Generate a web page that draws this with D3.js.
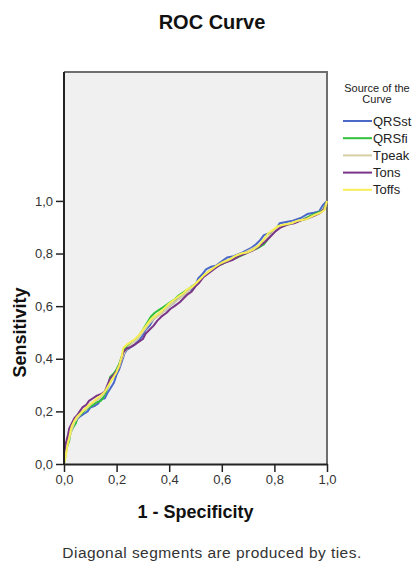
<!DOCTYPE html>
<html>
<head>
<meta charset="utf-8">
<script src="https://cdn.jsdelivr.net/npm/d3@7"></script>
<style>
  html, body { margin: 0; padding: 0; background: #fff; }
  svg { display: block; font-family: "Liberation Sans", Arial, sans-serif; }
</style>
</head>
<body>
<svg id="chart" width="417" height="570"></svg>
<script>
// ROC points per test variable: [1 - specificity, sensitivity]
const qrsst = [[0,0],[0,0.03],[0.01,0.06],[0.015,0.09],[0.02,0.11],[0.03,0.13],[0.04,0.15],[0.05,0.17],[0.06,0.18],[0.075,0.19],[0.09,0.20],[0.10,0.215],[0.115,0.22],[0.13,0.23],[0.14,0.245],[0.155,0.25],[0.165,0.27],[0.175,0.285],[0.19,0.31],[0.20,0.34],[0.21,0.36],[0.22,0.39],[0.23,0.42],[0.24,0.435],[0.255,0.445],[0.27,0.455],[0.285,0.47],[0.30,0.49],[0.31,0.51],[0.325,0.525],[0.34,0.55],[0.355,0.565],[0.37,0.575],[0.385,0.585],[0.40,0.60],[0.415,0.61],[0.43,0.625],[0.445,0.635],[0.46,0.645],[0.475,0.66],[0.49,0.665],[0.50,0.68],[0.51,0.705],[0.525,0.72],[0.54,0.74],[0.56,0.75],[0.58,0.755],[0.60,0.77],[0.62,0.785],[0.645,0.79],[0.67,0.80],[0.69,0.81],[0.71,0.82],[0.73,0.835],[0.745,0.85],[0.76,0.87],[0.775,0.875],[0.79,0.88],[0.81,0.90],[0.82,0.915],[0.845,0.92],[0.87,0.925],[0.90,0.935],[0.925,0.95],[0.95,0.955],[0.97,0.96],[0.985,0.985],[1,1]];
const qrsfi = [[0,0],[0.005,0.03],[0.01,0.06],[0.02,0.09],[0.025,0.12],[0.035,0.14],[0.045,0.155],[0.05,0.175],[0.065,0.19],[0.08,0.205],[0.095,0.215],[0.11,0.225],[0.125,0.235],[0.14,0.24],[0.15,0.255],[0.16,0.275],[0.17,0.30],[0.175,0.33],[0.19,0.345],[0.20,0.36],[0.21,0.38],[0.22,0.41],[0.23,0.435],[0.245,0.45],[0.26,0.465],[0.275,0.475],[0.29,0.495],[0.30,0.51],[0.315,0.535],[0.33,0.56],[0.345,0.575],[0.36,0.585],[0.375,0.595],[0.39,0.605],[0.405,0.615],[0.42,0.625],[0.435,0.64],[0.45,0.65],[0.465,0.66],[0.48,0.67],[0.50,0.685],[0.515,0.70],[0.53,0.715],[0.55,0.73],[0.57,0.745],[0.59,0.755],[0.61,0.765],[0.63,0.775],[0.66,0.785],[0.69,0.80],[0.71,0.81],[0.735,0.82],[0.76,0.835],[0.78,0.86],[0.80,0.885],[0.82,0.90],[0.85,0.91],[0.88,0.92],[0.91,0.93],[0.94,0.945],[0.965,0.955],[0.985,0.965],[1,1]];
const tpeak = [[0,0],[0.005,0.04],[0.01,0.07],[0.02,0.10],[0.03,0.13],[0.04,0.16],[0.055,0.18],[0.07,0.20],[0.085,0.21],[0.10,0.225],[0.12,0.24],[0.135,0.25],[0.15,0.265],[0.165,0.29],[0.18,0.32],[0.195,0.345],[0.21,0.37],[0.22,0.40],[0.23,0.425],[0.245,0.445],[0.26,0.46],[0.28,0.475],[0.295,0.495],[0.31,0.515],[0.325,0.535],[0.34,0.55],[0.36,0.565],[0.38,0.58],[0.40,0.60],[0.42,0.615],[0.44,0.63],[0.46,0.645],[0.48,0.665],[0.50,0.685],[0.52,0.705],[0.54,0.725],[0.56,0.74],[0.585,0.755],[0.61,0.77],[0.635,0.78],[0.66,0.795],[0.69,0.805],[0.72,0.82],[0.75,0.835],[0.77,0.855],[0.79,0.875],[0.81,0.895],[0.835,0.905],[0.86,0.915],[0.89,0.925],[0.92,0.93],[0.95,0.945],[0.975,0.955],[0.99,0.97],[1,1]];
const tons = [[0,0],[0,0.04],[0.005,0.07],[0.01,0.09],[0.015,0.11],[0.02,0.135],[0.03,0.155],[0.04,0.175],[0.05,0.185],[0.06,0.20],[0.07,0.215],[0.085,0.225],[0.095,0.24],[0.11,0.25],[0.125,0.26],[0.14,0.265],[0.155,0.275],[0.165,0.30],[0.175,0.325],[0.19,0.34],[0.205,0.36],[0.215,0.39],[0.225,0.425],[0.24,0.44],[0.255,0.445],[0.27,0.455],[0.285,0.465],[0.30,0.475],[0.31,0.495],[0.325,0.51],[0.34,0.525],[0.355,0.545],[0.37,0.56],[0.39,0.575],[0.405,0.59],[0.42,0.60],[0.44,0.615],[0.455,0.63],[0.47,0.645],[0.485,0.655],[0.50,0.675],[0.515,0.69],[0.53,0.71],[0.55,0.725],[0.57,0.74],[0.59,0.755],[0.61,0.765],[0.64,0.775],[0.665,0.79],[0.69,0.80],[0.715,0.81],[0.74,0.825],[0.765,0.845],[0.785,0.865],[0.805,0.885],[0.825,0.90],[0.85,0.91],[0.875,0.915],[0.90,0.925],[0.93,0.935],[0.955,0.945],[0.975,0.955],[0.99,0.97],[1,1]];
const toffs = [[0,0],[0.005,0.02],[0.01,0.05],[0.015,0.08],[0.02,0.10],[0.025,0.125],[0.03,0.145],[0.04,0.165],[0.05,0.18],[0.065,0.195],[0.08,0.21],[0.095,0.225],[0.11,0.235],[0.125,0.25],[0.14,0.26],[0.155,0.275],[0.17,0.30],[0.185,0.325],[0.20,0.35],[0.21,0.375],[0.22,0.41],[0.225,0.44],[0.24,0.455],[0.255,0.465],[0.27,0.475],[0.285,0.49],[0.30,0.51],[0.315,0.53],[0.33,0.55],[0.35,0.565],[0.37,0.58],[0.385,0.595],[0.40,0.61],[0.42,0.625],[0.44,0.64],[0.455,0.65],[0.47,0.665],[0.49,0.675],[0.505,0.69],[0.52,0.705],[0.535,0.72],[0.555,0.735],[0.575,0.75],[0.60,0.765],[0.625,0.775],[0.65,0.79],[0.675,0.80],[0.70,0.805],[0.72,0.815],[0.74,0.83],[0.76,0.855],[0.775,0.875],[0.795,0.89],[0.815,0.905],[0.84,0.91],[0.865,0.915],[0.89,0.925],[0.92,0.93],[0.95,0.945],[0.975,0.955],[0.99,0.965],[1,1]];

const seriesNames = ["QRSst", "QRSfi", "Tpeak", "Tons", "Toffs"];
const seriesPoints = [qrsst, qrsfi, tpeak, tons, toffs];
const seriesColors = ["#4a68c8", "#2fc23a", "#d6cfa6", "#7a3488", "#f6ee55"];

const tickValues = [0, 0.2, 0.4, 0.6, 0.8, 1.0];
const tickLabels = ["0,0", "0,2", "0,4", "0,6", "0,8", "1,0"];

const svg = d3.select("#chart");

const plot = { left: 64, right: 327, top: 72, bottom: 464 };
const yTop = 1.49; // vertical extent of the plot frame, above sensitivity 1

const x = d3.scaleLinear().domain([0, 1]).range([plot.left, plot.right]);
const y = d3.scaleLinear().domain([0, 1]).range([plot.bottom, plot.bottom - (plot.bottom - plot.top) / yTop]);

// Plot background
svg.append("rect")
  .attr("x", x(0)).attr("y", y(yTop))
  .attr("width", x(1) - x(0)).attr("height", y(0) - y(yTop))
  .attr("fill", "#f0f0f0");

// Frame: top and right edges
svg.append("path")
  .attr("d", `M${x(0)},${y(yTop)}H${x(1)}V${y(0)}`)
  .attr("fill", "none")
  .attr("stroke", "#6e6e6e")
  .attr("stroke-width", 2);

// Curves
const line = d3.line().x(d => x(d[0])).y(d => y(d[1]));
svg.append("g")
  .selectAll("path")
  .data(seriesPoints)
  .join("path")
  .attr("d", line)
  .attr("fill", "none")
  .attr("stroke", (d, i) => seriesColors[i])
  .attr("stroke-width", 2)
  .attr("stroke-linejoin", "round");

// Axes
const fmt = v => tickLabels[tickValues.indexOf(v)];
const xAxis = svg.append("g")
  .attr("transform", `translate(0,${y(0)})`)
  .call(d3.axisBottom(x).tickValues(tickValues).tickFormat(fmt).tickSize(8).tickPadding(3).tickSizeOuter(0));
const yAxis = svg.append("g")
  .attr("transform", `translate(${x(0)},0)`)
  .call(d3.axisLeft(y).tickValues(tickValues).tickFormat(fmt).tickSize(8).tickPadding(3).tickSizeOuter(0));

yAxis.select(".domain").attr("d", `M0,${y(yTop)}V${y(0)}`);

[xAxis, yAxis].forEach(g => {
  g.select(".domain").attr("stroke", "#222").attr("stroke-width", 2);
  g.selectAll(".tick line").attr("stroke", "#222").attr("stroke-width", 1.5);
  g.selectAll(".tick text")
    .attr("fill", "#333")
    .style("font-size", "13px")
    .style("font-family", "'Liberation Sans', Arial, sans-serif");
});

// Titles
svg.append("text")
  .attr("x", 212).attr("y", 29)
  .attr("text-anchor", "middle")
  .style("font-size", "20px").style("font-weight", "bold")
  .attr("fill", "#111")
  .text("ROC Curve");

svg.append("text")
  .attr("x", (x(0) + x(1)) / 2).attr("y", 518)
  .attr("text-anchor", "middle")
  .style("font-size", "18px").style("font-weight", "bold")
  .attr("fill", "#111")
  .text("1 - Specificity");

svg.append("text")
  .attr("transform", `translate(26,${(y(0) + y(1)) / 2}) rotate(-90)`)
  .attr("text-anchor", "middle")
  .style("font-size", "18px").style("font-weight", "bold")
  .attr("fill", "#111")
  .text("Sensitivity");

svg.append("text")
  .attr("x", 212).attr("y", 558)
  .attr("text-anchor", "middle")
  .style("font-size", "15.5px")
  .style("letter-spacing", "0.45px")
  .attr("fill", "#333")
  .text("Diagonal segments are produced by ties.");

// Legend
const legend = svg.append("g");
legend.append("text")
  .attr("x", 377).attr("y", 92)
  .attr("text-anchor", "middle")
  .style("font-size", "11px")
  .attr("fill", "#222")
  .selectAll("tspan")
  .data(["Source of the", "Curve"])
  .join("tspan")
  .attr("x", 377)
  .attr("dy", (d, i) => i === 0 ? 0 : 11)
  .text(d => d);

const items = legend.selectAll("g.item")
  .data(seriesNames)
  .join("g")
  .attr("class", "item")
  .attr("transform", (d, i) => `translate(0,${121 + i * 17.2})`);
items.append("line")
  .attr("x1", 343).attr("x2", 372)
  .attr("stroke", (d, i) => seriesColors[i])
  .attr("stroke-width", 2);
items.append("text")
  .attr("x", 373).attr("y", 0)
  .attr("dy", "0.35em")
  .style("font-size", "13px")
  .attr("fill", "#222")
  .text(d => d);
</script>
</body>
</html>
